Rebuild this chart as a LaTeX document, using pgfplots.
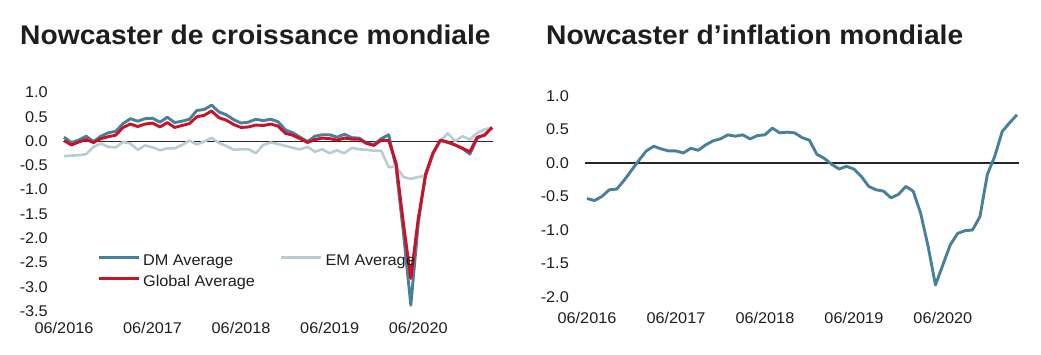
\documentclass[border=0pt]{standalone}
\usepackage{fontspec}
\setmainfont{Liberation Sans}[FakeStretch=1.05]
\newfontfamily\titlefont{Liberation Sans}[FakeStretch=1.045]
\usepackage{pgfplots}
\usepackage{pgfplotstable}
\pgfplotsset{compat=1.18}
\definecolor{dmblue}{RGB}{72,128,156}
\definecolor{gred}{RGB}{204,16,40}
\definecolor{emgray}{RGB}{186,203,211}
\definecolor{txt}{RGB}{30,30,30}

\pgfplotstableread{
i dm em gl
0 0.08 -0.31 0.01
1 -0.03 -0.30 -0.08
2 0.02 -0.29 -0.02
3 0.10 -0.27 0.03
4 -0.01 -0.12 -0.03
5 0.10 -0.05 0.05
6 0.17 -0.12 0.09
7 0.20 -0.13 0.12
8 0.36 -0.02 0.28
9 0.46 -0.05 0.35
10 0.41 -0.18 0.30
11 0.46 -0.09 0.35
12 0.47 -0.13 0.37
13 0.39 -0.19 0.29
14 0.49 -0.15 0.38
15 0.38 -0.15 0.28
16 0.41 -0.08 0.32
17 0.45 0.01 0.36
18 0.63 -0.07 0.50
19 0.65 -0.01 0.53
20 0.74 0.07 0.62
21 0.60 -0.04 0.48
22 0.54 -0.10 0.43
23 0.44 -0.18 0.34
24 0.37 -0.17 0.28
25 0.39 -0.17 0.29
26 0.45 -0.25 0.33
27 0.42 -0.08 0.32
28 0.45 -0.03 0.35
29 0.40 -0.06 0.31
30 0.23 -0.10 0.16
31 0.17 -0.14 0.12
32 0.08 -0.17 0.05
33 -0.01 -0.12 -0.03
34 0.10 -0.22 0.03
35 0.13 -0.17 0.06
36 0.13 -0.25 0.05
37 0.08 -0.19 0.02
38 0.14 -0.25 0.06
39 0.07 -0.14 0.04
40 0.06 -0.17 0.04
41 -0.04 -0.18 -0.05
42 -0.07 -0.20 -0.09
43 0.05 -0.20 0.02
44 0.13 -0.54 0.01
45 -0.55 -0.52 -0.45
46 -1.90 -0.74 -1.70
47 -3.38 -0.78 -2.83
48 -1.70 -0.74 -1.60
49 -0.67 -0.72 -0.70
50 -0.25 -0.30 -0.25
51 0.01 0.00 0.02
52 -0.03 0.16 -0.02
53 -0.08 0.00 -0.08
54 -0.15 0.10 -0.15
55 -0.27 0.03 -0.22
56 0.06 0.17 0.08
57 0.13 0.24 0.12
58 0.28 0.28 0.28
}\growth

\pgfplotstableread{
i v
0 -0.53
1 -0.56
2 -0.50
3 -0.40
4 -0.39
5 -0.26
6 -0.11
7 0.04
8 0.18
9 0.25
10 0.21
11 0.18
12 0.18
13 0.15
14 0.22
15 0.19
16 0.27
17 0.33
18 0.36
19 0.42
20 0.40
21 0.42
22 0.36
23 0.41
24 0.42
25 0.52
26 0.45
27 0.46
28 0.45
29 0.38
30 0.34
31 0.13
32 0.07
33 -0.02
34 -0.09
35 -0.05
36 -0.09
37 -0.20
38 -0.35
39 -0.40
40 -0.42
41 -0.52
42 -0.47
43 -0.35
44 -0.42
45 -0.75
46 -1.24
47 -1.82
48 -1.52
49 -1.22
50 -1.05
51 -1.01
52 -1.00
53 -0.80
54 -0.17
55 0.10
56 0.47
57 0.60
58 0.72
}\infl

\pgfplotsset{
  common/.style={
    scale only axis,
    axis lines=left,
    axis line style={draw=none},
    major tick length=0pt,
    tick style={draw=none},
    xmin=0, xmax=58,
    xtick={0,12,24,36,48},
    xticklabels={06/2016,06/2017,06/2018,06/2019,06/2020},
    tick label style={font=\fontsize{15.5}{18}\selectfont, text=txt},
    yticklabel style={anchor=east, inner sep=0pt},
    xticklabel style={anchor=north, inner sep=0pt},
    clip=false,
  }
}

\begin{document}
\begin{tikzpicture}[x=1pt,y=1pt]
\path[use as bounding box] (0,0) rectangle (1041,354);
\node[anchor=base west, inner sep=0pt, text=txt, font=\titlefont\bfseries\fontsize{27}{32}\selectfont] at (20,309) {Nowcaster de croissance mondiale};
\node[anchor=base west, inner sep=0pt, text=txt, font=\titlefont\bfseries\fontsize{27}{32}\selectfont] at (546,309) {Nowcaster d’inflation mondiale};

\begin{axis}[common,
  at={(64pt,43pt)}, anchor=south west,
  width=428pt, height=218.5pt,
  ymin=-3.5, ymax=1,
  ytick={-3.5,-3,-2.5,-2,-1.5,-1,-0.5,0,0.5,1},
  yticklabels={-3.5,-3.0,-2.5,-2.0,-1.5,-1.0,-0.5,0.0,0.5,1.0},
  yticklabel style={xshift=-16pt},
  xticklabel style={yshift=-11pt},
  legend columns=2,
  legend cell align=left,
  legend image code/.code={\draw[#1] (0pt,4.5pt) -- (40pt,4.5pt);},
  legend style={draw=none, fill=none, at={(0.0771,0.258)}, anchor=north west,
    inner sep=0pt, font=\fontsize{15.5}{18}\selectfont, text=txt,
    nodes={inner sep=0pt, text height=11pt, text depth=3pt},
    row sep=7pt,
    /tikz/every odd column/.append style={column sep=3pt},
    /tikz/every even column/.append style={column sep=25pt}},
]
\draw[color=black!85, line width=1.1pt] (axis cs:-0.1,0) -- (axis cs:58.1,0);
\addplot[dmblue, line width=2.9pt, line join=round] table[x=i, y=dm] {\growth};
\addlegendentry{DM Average}
\addplot[emgray, line width=2.6pt, line join=round] table[x=i, y=em] {\growth};
\addlegendentry{EM Average}
\addplot[gred, line width=2.9pt, line join=round] table[x=i, y=gl] {\growth};
\addlegendentry{Global Average}
\end{axis}

\begin{axis}[common,
  at={(587pt,57pt)}, anchor=south west,
  width=430pt, height=201pt,
  ymin=-2, ymax=1,
  ytick={-2,-1.5,-1,-0.5,0,0.5,1},
  yticklabels={-2.0,-1.5,-1.0,-0.5,0.0,0.5,1.0},
  yticklabel style={xshift=-18pt},
  xticklabel style={yshift=-15pt},
]
\draw[color=black!85, line width=1.1pt] (axis cs:-0.3,0) -- (axis cs:58.3,0);
\addplot[dmblue, line width=2.9pt, line join=round] table[x=i, y=v] {\infl};
\end{axis}
\end{tikzpicture}
\end{document}
